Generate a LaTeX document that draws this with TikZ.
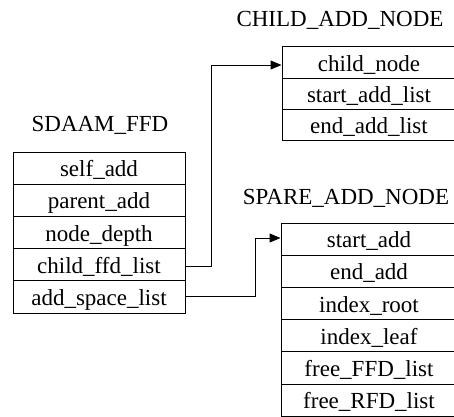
\documentclass[tikz,border=0pt]{standalone}
\usepackage{fontspec}
\setmainfont{Liberation Serif}
\usetikzlibrary{arrows.meta}
\begin{document}
\begin{tikzpicture}[x=1pt,y=-1pt,
  txt/.style={inner sep=0pt,text height=17pt,text depth=0pt,font=\fontsize{23}{23}\selectfont},
  lrow/.style={txt,draw,line width=1pt,minimum width=172pt,minimum height=32.2pt},
  crow/.style={txt,draw,line width=1pt,minimum width=174pt,minimum height=31.3pt},
  srow/.style={txt,draw,line width=1pt,minimum width=176pt,minimum height=32.2pt},
  link/.style={line width=1pt,-{Triangle[length=11pt,width=9pt]}}]
\useasboundingbox (0,0) rectangle (454,416);
\clip (0,0) rectangle (454,416);
% titles
\node[txt] (t1) at (100,123) {SDAAM\_FFD};
\node[txt] (t2) at (340,17.5) {CHILD\_ADD\_NODE};
\node[txt] (t3) at (346,195.5) {SPARE\_ADD\_NODE};
% left box
\node[lrow] (l1) at (99,168.1) {self\_add};
\node[lrow] (l2) at (99,200.3) {parent\_add};
\node[lrow] (l3) at (99,232.5) {node\_depth};
\node[lrow] (l4) at (99,264.7) {child\_ffd\_list};
\node[lrow] (l5) at (99,296.9) {add\_space\_list};
% child box
\node[crow] (c1) at (369,62.6) {child\_node};
\node[crow] (c2) at (369,93.9) {start\_add\_list};
\node[crow] (c3) at (369,125.2) {end\_add\_list};
% spare box
\node[srow] (s1) at (369,239.1) {start\_add};
\node[srow] (s2) at (369,271.3) {end\_add};
\node[srow] (s3) at (369,303.5) {index\_root};
\node[srow] (s4) at (369,335.7) {index\_leaf};
\node[srow] (s5) at (369,367.9) {free\_FFD\_list};
\node[srow] (s6) at (369,400.1) {free\_RFD\_list};
% connectors
\draw[link] ([yshift=-1.5pt]l4.east) -| (211,65) -- (c1.west |- 0,65);
\draw[link] (l5.east) -| (255,238) -- (s1.west |- 0,238);
\end{tikzpicture}
\end{document}
